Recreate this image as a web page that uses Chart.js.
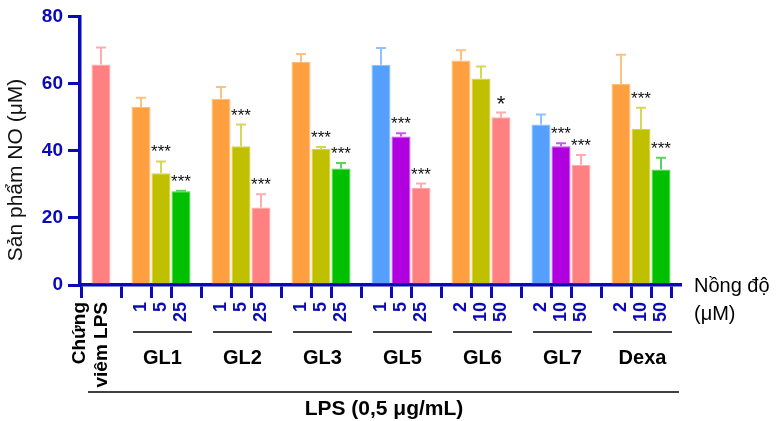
<!DOCTYPE html>
<html>
<head>
<meta charset="utf-8">
<script src="https://cdn.jsdelivr.net/npm/chart.js@4.4.0/dist/chart.umd.min.js"></script>
<style>
  html, body { margin: 0; padding: 0; background: #fff; }
  #wrap { width: 776px; height: 421px; }
</style>
</head>
<body>
<div id="wrap"><canvas id="noChart"></canvas></div>
<script>
const groups = ['GL1', 'GL2', 'GL3', 'GL5', 'GL6', 'GL7', 'Dexa'];
const controlLabel = ['Chứng', 'viêm LPS'];
const doseLabels = ['', '1', '5', '25', '1', '5', '25', '1', '5', '25', '1', '5', '25',
    '2', '10', '50', '2', '10', '50', '2', '10', '50'];
const noMeans = [65.7, 53.0, 33.3, 27.9, 55.5, 41.3, 23.1, 66.4, 40.5, 34.7, 65.6, 44.2, 28.9,
    66.9, 61.5, 50.0, 47.8, 41.3, 35.8, 59.9, 46.5, 34.4];
const noErrors = [5.0, 2.8, 3.5, 0.2, 3.5, 6.5, 3.9, 2.4, 0.6, 1.6, 5.0, 1.0, 1.3,
    3.0, 3.6, 1.4, 3.0, 0.9, 2.9, 8.7, 6.3, 3.5];
const signif = ['', '', '***', '***', '', '***', '***', '', '***', '***', '', '***', '***',
    '', '', '*', '', '***', '***', '', '***', '***'];
const yTicks = [0, 20, 40, 60, 80];

const AXIS = '#0a0ab8';
const barColors = ['#ff8080', '#ffa040', '#c0c000', '#00c000', '#ffa040', '#c0c000', '#ff8080',
    '#ffa040', '#c0c000', '#00c000', '#55a0ff', '#b000e0', '#ff8080', '#ffa040', '#c0c000', '#ff8080',
    '#55a0ff', '#b000e0', '#ff8080', '#ffa040', '#c0c000', '#00c000'];

// slot on the x axis: control at 0, then each group of 3 after an empty slot
function slotOf(i) {
    if (i === 0) return 0;
    const g = Math.floor((i - 1) / 3);
    return 2 + g * 4 + (i - 1) % 3;
}

function lighten(hex, t) {
    const n = parseInt(hex.slice(1), 16);
    const r = (n >> 16) & 255, g = (n >> 8) & 255, b = n & 255;
    const m = c => Math.round(c + (255 - c) * t);
    return `rgb(${m(r)},${m(g)},${m(b)})`;
}

const slots = noMeans.map((_, i) => slotOf(i));

const annotate = {
    id: 'annotate',
    afterDatasetsDraw(chart) {
        const { ctx, scales: { x, y } } = chart;
        ctx.save();
        noMeans.forEach((m, i) => {
            const px = x.getPixelForValue(slots[i]);
            const base = y.getPixelForValue(m);
            const top = y.getPixelForValue(m + noErrors[i]);
            ctx.strokeStyle = lighten(barColors[i], 0.35);
            ctx.lineWidth = 2;
            ctx.beginPath();
            ctx.moveTo(px, base);
            ctx.lineTo(px, top);
            ctx.moveTo(px - 5, top);
            ctx.lineTo(px + 5, top);
            ctx.stroke();

            if (signif[i]) {
                const single = signif[i].length === 1;
                ctx.fillStyle = '#111';
                ctx.textAlign = 'center';
                ctx.textBaseline = 'alphabetic';
                ctx.font = single ? '22px "Liberation Sans", Arial' : '17px "Liberation Sans", Arial';
                ctx.fillText(signif[i], px, top - (single ? 1 : 4));
            }
        });
        ctx.restore();
    },
    afterDraw(chart) {
        const { ctx, scales: { x } } = chart;
        ctx.save();
        ctx.fillStyle = '#000';
        ctx.strokeStyle = '#000';
        ctx.lineWidth = 1.5;
        ctx.textAlign = 'center';
        ctx.textBaseline = 'alphabetic';

        // group brackets and names
        groups.forEach((name, g) => {
            const x0 = x.getPixelForValue(slots[1 + g * 3]) - 8;
            const x1 = x.getPixelForValue(slots[3 + g * 3]) + 11;
            ctx.beginPath();
            ctx.moveTo(x0, 332);
            ctx.lineTo(x1, 332);
            ctx.stroke();
            ctx.font = 'bold 20px "Liberation Sans", Arial';
            ctx.fillText(name, (x0 + x1) / 2, 364);
        });

        // LPS bracket
        ctx.beginPath();
        ctx.moveTo(88, 392);
        ctx.lineTo(679, 392);
        ctx.stroke();
        ctx.font = 'bold 21px "Liberation Sans", Arial';
        ctx.fillText('LPS (0,5 μg/mL)', 384, 415);

        // concentration caption
        ctx.textAlign = 'left';
        ctx.font = '20px "Liberation Sans", Arial';
        ctx.fillText('Nồng độ', 694, 292);
        ctx.fillText('(μM)', 694, 320);

        // control label, two rotated lines left of its tick
        const cx = x.getPixelForValue(slots[0]);
        ctx.font = 'bold 19px "Liberation Sans", Arial';
        ctx.textAlign = 'right';
        ctx.textBaseline = 'middle';
        controlLabel.forEach((line, k) => {
            ctx.save();
            ctx.translate(cx - 21 + k * 22, 302);
            ctx.rotate(-Math.PI / 2);
            ctx.fillText(line, 0, 0);
            ctx.restore();
        });

        // y axis title
        ctx.translate(16, 170);
        ctx.rotate(-Math.PI / 2);
        ctx.textAlign = 'center';
        ctx.textBaseline = 'middle';
        ctx.font = '21px "Liberation Sans", Arial';
        ctx.fillStyle = '#111';
        ctx.fillText('Sản phẩm NO (μM)', 0, 0);
        ctx.restore();
    }
};

Chart.defaults.font.family = '"Liberation Sans", Arial, sans-serif';

new Chart(document.getElementById('noChart'), {
    type: 'bar',
    data: {
        datasets: [{
            data: noMeans.map((v, i) => ({ x: slots[i], y: v })),
            backgroundColor: barColors,
            borderColor: barColors.map(c => lighten(c, 0.3)),
            borderWidth: 1,
            barPercentage: 0.95,
            categoryPercentage: 1
        }]
    },
    options: {
        responsive: true,
        maintainAspectRatio: false,
        animation: false,
        layout: { padding: { top: 15, right: 96, left: 0, bottom: 0 } },
        plugins: {
            legend: { display: false },
            tooltip: { enabled: false }
        },
        scales: {
            x: {
                type: 'linear',
                min: -1.05,
                max: 28.95,
                offset: false,
                afterBuildTicks: scale => {
                    scale.ticks = slots.map(v => ({ value: v }));
                },
                afterFit: scale => { scale.height = 136; },
                border: { color: AXIS, width: 3.5 },
                grid: {
                    drawOnChartArea: false,
                    color: AXIS,
                    lineWidth: 3,
                    tickLength: 13
                },
                ticks: {
                    autoSkip: false,
                    minRotation: 90,
                    maxRotation: 90,
                    padding: 4,
                    callback: value => doseLabels[slots.indexOf(value)],
                    color: AXIS,
                    font: { size: 18, weight: 'bold' }
                }
            },
            y: {
                min: 0,
                max: 80,
                afterBuildTicks: scale => {
                    scale.ticks = yTicks.map(v => ({ value: v }));
                },
                afterFit: scale => { scale.width = 80; },
                border: { color: AXIS, width: 3.5 },
                grid: {
                    drawOnChartArea: false,
                    color: AXIS,
                    lineWidth: 3,
                    tickLength: 12
                },
                ticks: {
                    color: AXIS,
                    padding: 5,
                    font: { size: 19, weight: 'bold' }
                }
            }
        }
    },
    plugins: [annotate]
});
</script>
</body>
</html>
